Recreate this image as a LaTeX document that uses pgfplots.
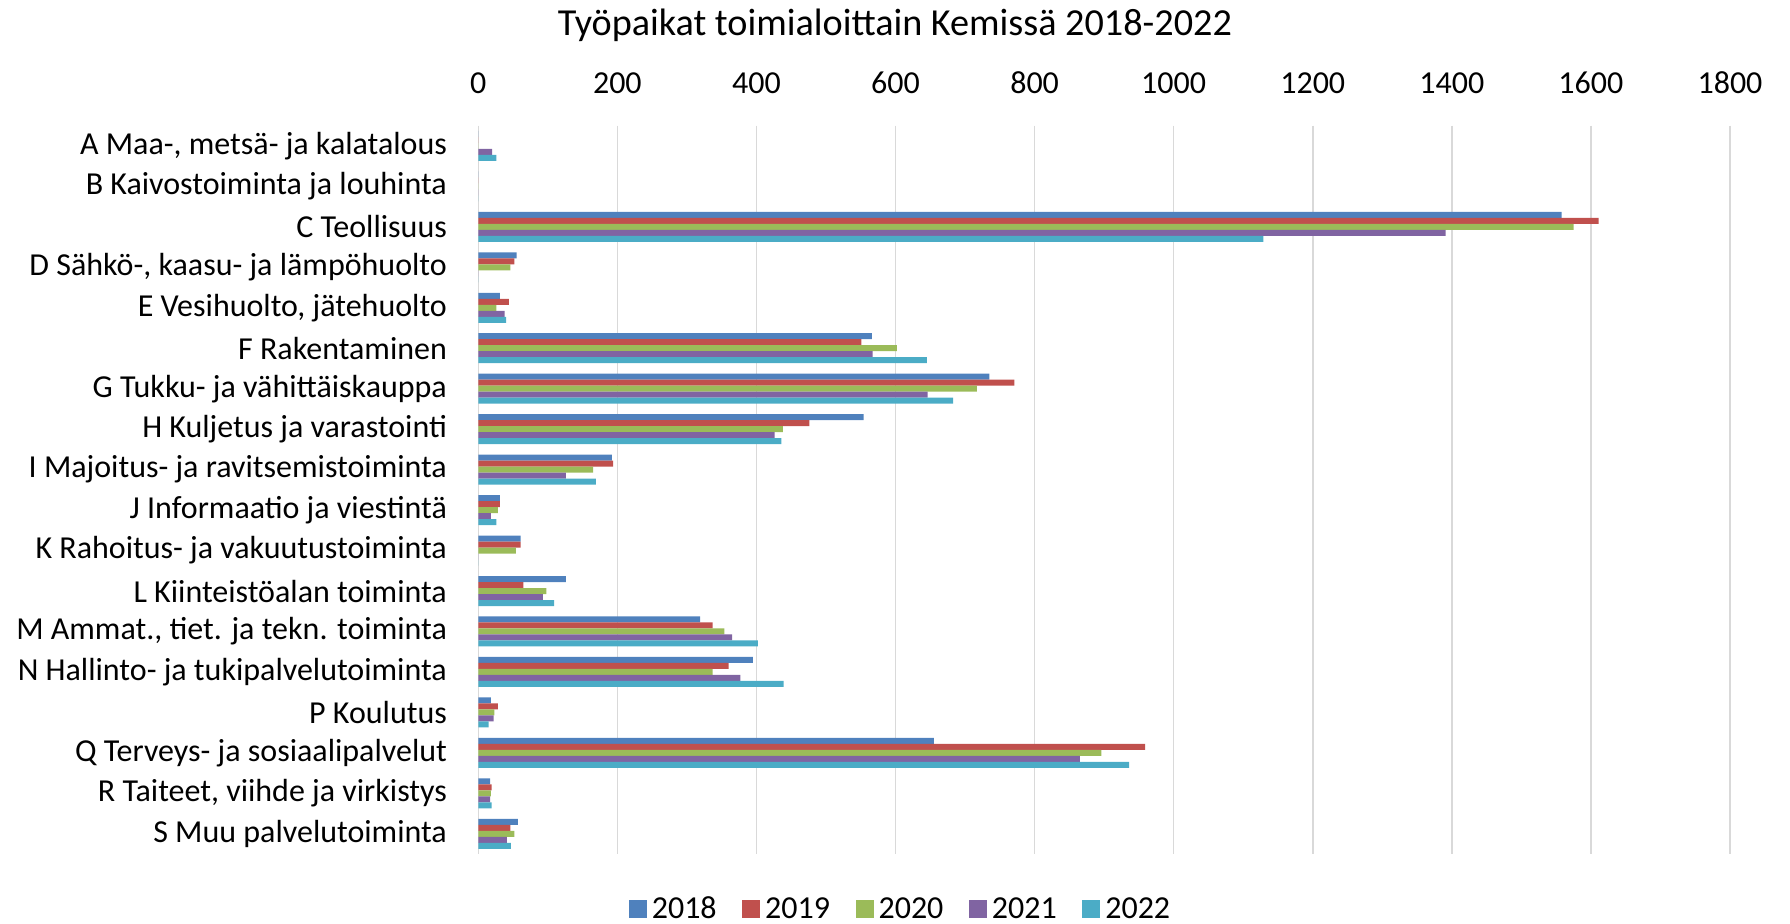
\documentclass[border=0pt]{standalone}
\usepackage{fontspec}
\setmainfont{Carlito}
\usepackage{pgfplots}
\usepackage{pgfplotstable}
\pgfplotsset{compat=1.18}
\definecolor{c18}{HTML}{4F81BD}
\definecolor{c19}{HTML}{C0504D}
\definecolor{c20}{HTML}{9BBB59}
\definecolor{c21}{HTML}{8064A2}
\definecolor{c22}{HTML}{4BACC6}
\definecolor{gridc}{HTML}{D9D9D9}
\pgfplotstableread{
idx a b c d e
0 0 0 0 20 26
1 0 0 0 0 0
2 1558 1611 1575 1391 1129
3 55 52 46 0 0
4 31 44 26 38 40
5 566 551 602 567 645
6 735 771 717 646 683
7 554 476 438 426 436
8 192 194 165 126 169
9 31 31 28 18 26
10 61 61 54 0 0
11 126 65 98 93 109
12 319 337 354 365 402
13 395 360 337 377 439
14 18 28 23 22 15
15 655 959 896 865 936
16 17 19 18 17 19
17 57 46 52 41 47
}\datatable
\begin{document}
\begin{tikzpicture}
\begin{axis}[
  scale only axis,
  width=625.85pt, height=364.15pt,
  xbar=0pt, bar width=3pt,
  y dir=reverse,
  xmin=0, xmax=1800, ymin=-0.5, ymax=17.5,
  xtick={0,200,...,1800},
  ytick={0,...,17},
  yticklabels={{A Maa-, metsä- ja kalatalous},{B Kaivostoiminta ja louhinta},{C Teollisuus},{D Sähkö-, kaasu- ja lämpöhuolto},{E Vesihuolto, jätehuolto},{F Rakentaminen},{G Tukku- ja vähittäiskauppa},{H Kuljetus ja varastointi},{I Majoitus- ja ravitsemistoiminta},{J Informaatio ja viestintä},{K Rahoitus- ja vakuutustoiminta},{L Kiinteistöalan toiminta},{M Ammat., tiet. ja tekn. toiminta},{N Hallinto- ja tukipalvelutoiminta},{P Koulutus},{Q Terveys- ja sosiaalipalvelut},{R Taiteet, viihde ja virkistys},{S Muu palvelutoiminta}},
  xticklabel pos=upper,
  axis line style={draw=none},
  major tick length=0pt,
  xmajorgrids, major grid style={draw=gridc, line width=0.75pt},
  /pgf/number format/assume math mode=true,
  /pgf/number format/1000 sep={},
  xticklabel style={font=\fontsize{16}{19}\selectfont, anchor=base, inner sep=0pt, yshift=16.2pt},
  yticklabel style={font=\fontsize{16}{19}\selectfont, anchor=east, inner sep=0pt, xshift=-15.5pt},
  title={Työpaikat toimialoittain Kemissä 2018-2022},
  title style={font=\fontsize{19.1}{22}\selectfont, at={(0.3329,1.124)}, anchor=base, inner sep=0pt, yshift=-6pt},
  legend columns=5,
  legend style={draw=none, at={(0.3385,-0.076)}, anchor=center, font=\fontsize{16}{19}\selectfont,
    nodes={inner xsep=2.5pt, inner ysep=0pt},
    /tikz/every even column/.append style={column sep=10.25pt}},
  legend image code/.code={\fill[#1] (0pt,-4.5pt) rectangle (9pt,4.5pt);},
]
\addplot[fill=c18, draw=none, bar shift=6pt] table[x=a, y=idx] {\datatable};
\addplot[fill=c19, draw=none, bar shift=3pt] table[x=b, y=idx] {\datatable};
\addplot[fill=c20, draw=none, bar shift=0pt] table[x=c, y=idx] {\datatable};
\addplot[fill=c21, draw=none, bar shift=-3pt] table[x=d, y=idx] {\datatable};
\addplot[fill=c22, draw=none, bar shift=-6pt] table[x=e, y=idx] {\datatable};
\legend{2018,2019,2020,2021,2022}
\end{axis}
\pgfresetboundingbox
\path (current axis.south west) ++(-239.15pt,-34.5pt) rectangle ++(895pt,461.5pt);
\end{tikzpicture}
\end{document}
